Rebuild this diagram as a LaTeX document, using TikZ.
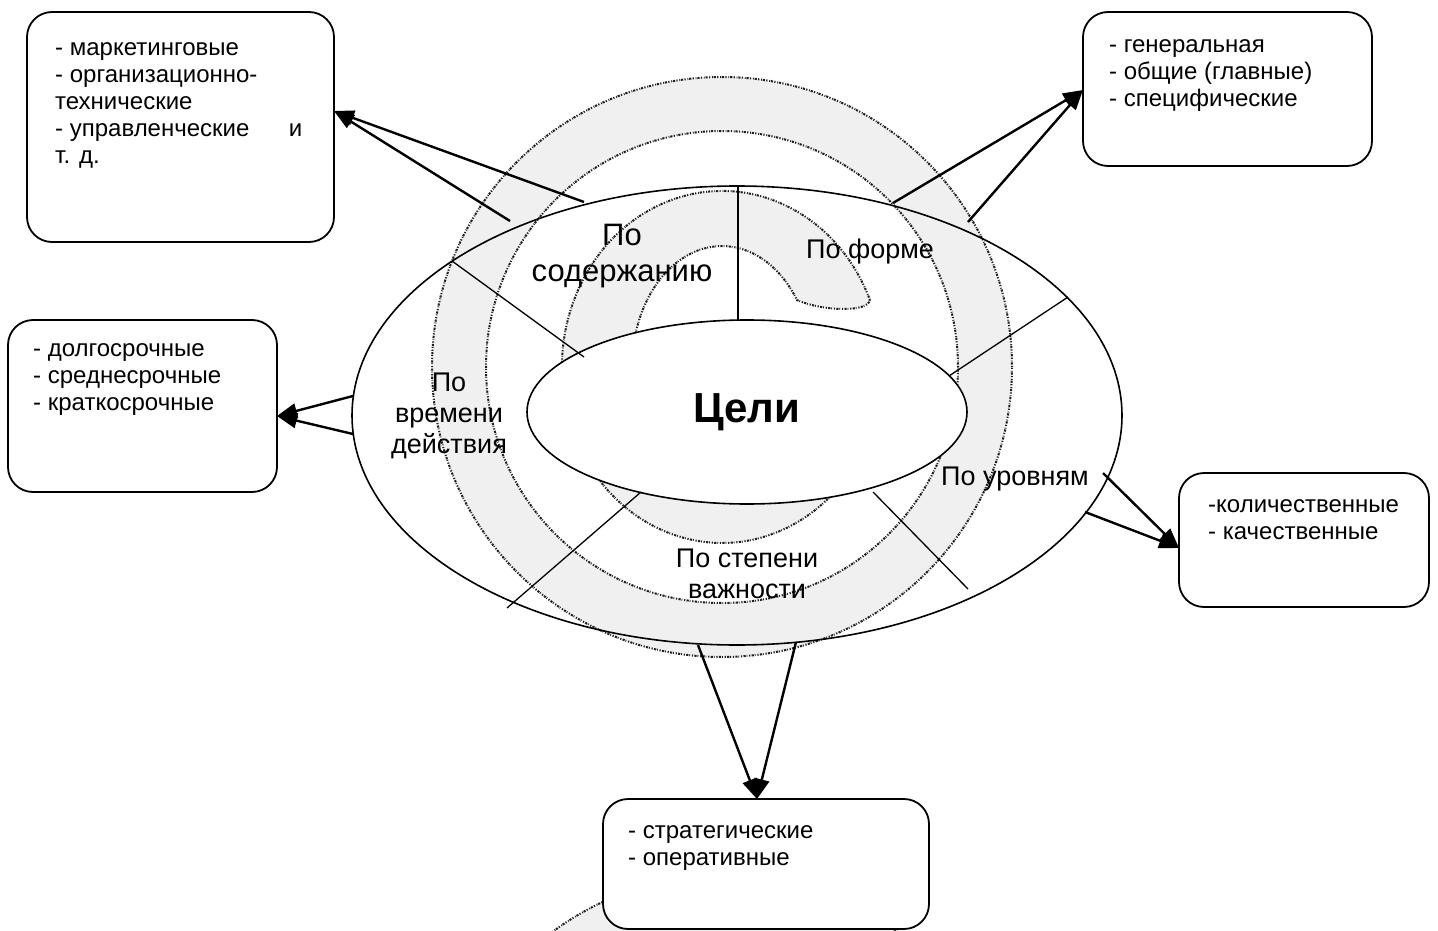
\documentclass[tikz,border=0pt]{standalone}
\usepackage{fontspec}
\setmainfont{Liberation Sans}
\usetikzlibrary{shapes.geometric,arrows.meta}

\begin{document}
\begin{tikzpicture}[x=1pt,y=1pt,
  catbox/.style={draw, line width=1.8pt, rounded corners=25pt, fill=white,
    anchor=north west, inner sep=0pt, outer sep=0pt},
  listtext/.style={anchor=north west, inner sep=0pt, align=left,
    font=\fontsize{24}{27}\selectfont},
  sector/.style={font=\fontsize{27}{31}\selectfont, align=center, inner sep=0pt},
  divider/.style={line width=1.3pt},
  link/.style={line width=2.4pt, -{Triangle[length=20pt,width=15pt]}},
  wm/.style={fill=black!6, draw=black!88, line width=2pt,
    dash pattern=on 1.2pt off 1.3pt on 2.2pt off 0.9pt on 0.8pt off 1.8pt},
]

\useasboundingbox (0,0) rectangle (1438,-931);

% background copyright mark
\begin{scope}
  \clip (0,0) rectangle (1438,-931);
  \path[wm, even odd rule] (722,-367) circle[radius=290] (722,-367) circle[radius=236];
  \path[wm] (869.9,-299.9)
    arc[start angle=22.4, end angle=337.6, x radius=160, y radius=176]
    -- (797,-434)
    arc[start angle=326.4, end angle=33.6, x radius=90, y radius=121]
    .. controls (822,-311) and (868,-313) .. (869.9,-299.9) -- cycle;
  \path[wm, even odd rule] (725,-1165) circle[radius=290] (725,-1165) circle[radius=230];
\end{scope}

% classification rings
\node[draw, ellipse, line width=1.6pt, minimum width=770pt, minimum height=459pt,
  inner sep=0pt, outer sep=0pt] (outer) at (737,-415.5) {};
\node[draw, ellipse, fill=white, line width=1.6pt, minimum width=440pt, minimum height=184pt,
  inner sep=0pt, outer sep=0pt, font=\fontsize{42}{48}\selectfont\bfseries] (goals) at (747,-412) {Цели};

% sector dividers
\coordinate (dva) at (738,-186);  \coordinate (dvb) at (738,-320);
\coordinate (dula) at (452,-261); \coordinate (dulb) at (584,-357);
\coordinate (dura) at (1068,-297); \coordinate (durb) at (949,-376);
\coordinate (dlla) at (507,-608); \coordinate (dllb) at (641,-492);
\coordinate (dlra) at (873,-492); \coordinate (dlrb) at (968,-589);
\draw[divider] (dva) -- (dvb);
\draw[divider] (dula) -- (dulb);
\draw[divider] (dura) -- (durb);
\draw[divider] (dlla) -- (dllb);
\draw[divider] (dlra) -- (dlrb);

% sector labels
\node[sector, font=\fontsize{31}{36}\selectfont] (scontent) at (622,-256) {По\\содержанию};
\node[sector] (sform) at (870,-252) {По форме};
\node[sector] (stime) at (449,-416) {По\\времени\\действия};
\node[sector] (slevel) at (1015,-479) {По уровням};
\node[sector] (srank) at (747,-574) {По степени\\важности};

% category boxes
\node[catbox, minimum width=307pt, minimum height=230pt] (b1) at (27,-12) {};
\node[catbox, minimum width=289pt, minimum height=154pt] (b2) at (1083,-12) {};
\node[catbox, minimum width=269pt, minimum height=172pt] (b3) at (8,-320) {};
\node[catbox, minimum width=250pt, minimum height=134pt] (b4) at (1179,-473) {};
\node[catbox, minimum width=326pt, minimum height=130pt] (b5) at (603,-799) {};

\node[listtext] (l1) at (55,-36.1) {\strut- маркетинговые\\- организационно-\\технические\\\makebox[247pt][l]{- управленческие\hfill и}\\т. д.};
\node[listtext] (l2) at (1109,-33.1) {\strut- генеральная\\- общие (главные)\\- специфические};
\node[listtext] (l3) at (33,-337.1) {\strut- долгосрочные\\- среднесрочные\\- краткосрочные};
\node[listtext] (l4) at (1208,-493.8) {\strut-количественные\\- качественные};
\node[listtext] (l5) at (628,-819.1) {\strut- стратегические\\- оперативные};

% arrows from the sectors to the boxes
\coordinate (a1u) at (584,-202); \coordinate (a1l) at (510,-221); \coordinate (t1) at (334,-111);
\coordinate (a2u) at (893,-203); \coordinate (a2l) at (968,-222); \coordinate (t2) at (1083,-90);
\coordinate (a3u) at (353,-396); \coordinate (a3l) at (353,-434); \coordinate (t3) at (277,-416);
\coordinate (a4u) at (1103,-473); \coordinate (a4l) at (1085,-512); \coordinate (t4) at (1179,-548);
\coordinate (a5l) at (698,-645); \coordinate (a5r) at (796,-642); \coordinate (t5) at (757,-799);

\draw[link] (a1u) -- (t1);
\draw[link] (a1l) -- (t1);
\draw[link] (a2u) -- (t2);
\draw[link] (a2l) -- (t2);
\draw[link] (a3u) -- (t3);
\draw[link] (a3l) -- (t3);
\draw[link] (a4u) -- (t4);
\draw[link] (a4l) -- (t4);
\draw[link] (a5l) -- (t5);
\draw[link] (a5r) -- (t5);
\end{tikzpicture}
\end{document}
